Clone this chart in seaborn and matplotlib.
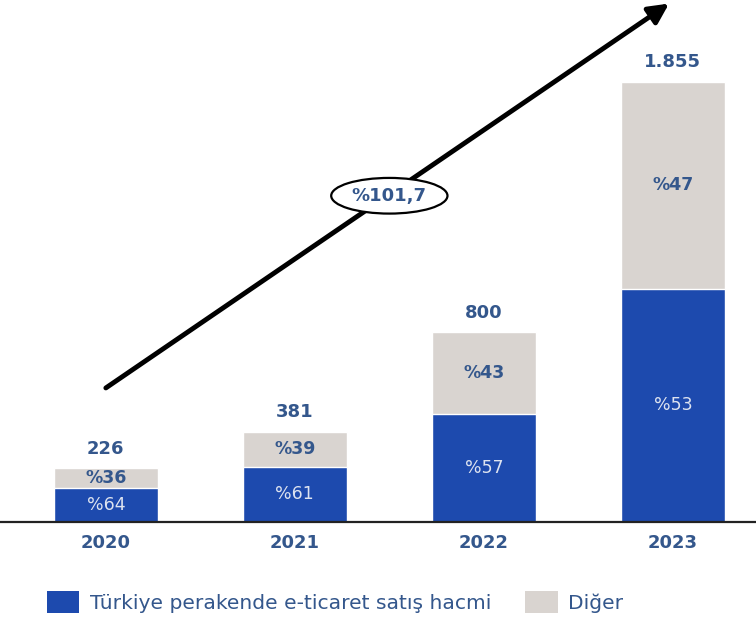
import matplotlib
matplotlib.use("Agg")
import matplotlib.pyplot as plt
import seaborn as sns
import pandas as pd
from matplotlib.patches import Patch

years = ["2020", "2021", "2022", "2023"]
totals = [226, 381, 800, 1855]
totals_text = ["226", "381", "800", "1.855"]
share_tr = [64, 61, 57, 53]
share_other = [36, 39, 43, 47]
growth_text = "%101,7"
legend_labels = ["Türkiye perakende e-ticaret satış hacmi", "Diğer"]

BLUE = "#1d4aae"
GRAY = "#d9d4d0"
TXT = "#34578c"

sns.set_theme(style="white")
plt.rcParams["font.family"] = ["DejaVu Sans"]

df = pd.DataFrame({
    "year": years,
    "total": totals,
    "tr": [t * s / 100 for t, s in zip(totals, share_tr)],
})

fig = plt.figure(figsize=(7.56, 6.25), dpi=100)
ax = fig.add_axes([0.0, 0.1648, 1.0, 0.8352])

sns.barplot(data=df, x="year", y="total", color=GRAY, width=0.55,
            saturation=1, ax=ax)
sns.barplot(data=df, x="year", y="tr", color=BLUE, width=0.55,
            saturation=1, ax=ax)

ax.set_xlim(-0.56, 3.44)
ax.set_ylim(0, 2200)
for s in ["top", "right", "left"]:
    ax.spines[s].set_visible(False)
ax.spines["bottom"].set_color("#222222")
ax.spines["bottom"].set_linewidth(1.6)
ax.set_xlabel("")
ax.set_ylabel("")
ax.set_yticks([])
ax.tick_params(axis="x", length=0, pad=9)
for lab in ax.get_xticklabels():
    lab.set_fontsize(13)
    lab.set_fontweight("bold")
    lab.set_color(TXT)

for i, (t, tt, a, b) in enumerate(zip(totals, totals_text, share_tr, share_other)):
    tr_h = t * a / 100
    ax.text(i, t + 45, tt, ha="center", va="bottom", fontsize=13,
            fontweight="bold", color=TXT)
    ax.text(i, tr_h / 2, f"%{a}", ha="center", va="center", fontsize=12.5,
            color="#dde3f0")
    ax.text(i, tr_h + (t - tr_h) / 2, f"%{b}", ha="center", va="center",
            fontsize=12.5, fontweight="bold", color=TXT)

# growth arrow with CAGR label
ax.annotate("", xy=(2.98, 2185), xytext=(0.0, 565),
            arrowprops=dict(arrowstyle="-|>,head_length=1.0,head_width=0.5",
                            color="black", lw=3.5, shrinkA=0, shrinkB=0))
ax.text(1.5, 1375, growth_text, ha="center", va="center", fontsize=13,
        fontweight="bold", color=TXT,
        bbox=dict(boxstyle="ellipse,pad=0.2", fc="white", ec="black", lw=1.6))

handles = [Patch(facecolor=BLUE, edgecolor="none"),
           Patch(facecolor=GRAY, edgecolor="none")]
leg = fig.legend(handles, legend_labels, loc="lower left",
                 bbox_to_anchor=(0.038, -0.01), ncol=2, frameon=False,
                 fontsize=14.6, handlelength=1.6, handleheight=1.3,
                 columnspacing=1.7, handletextpad=0.5)
for t in leg.get_texts():
    t.set_color(TXT)

fig.savefig("out.png", dpi=100)
